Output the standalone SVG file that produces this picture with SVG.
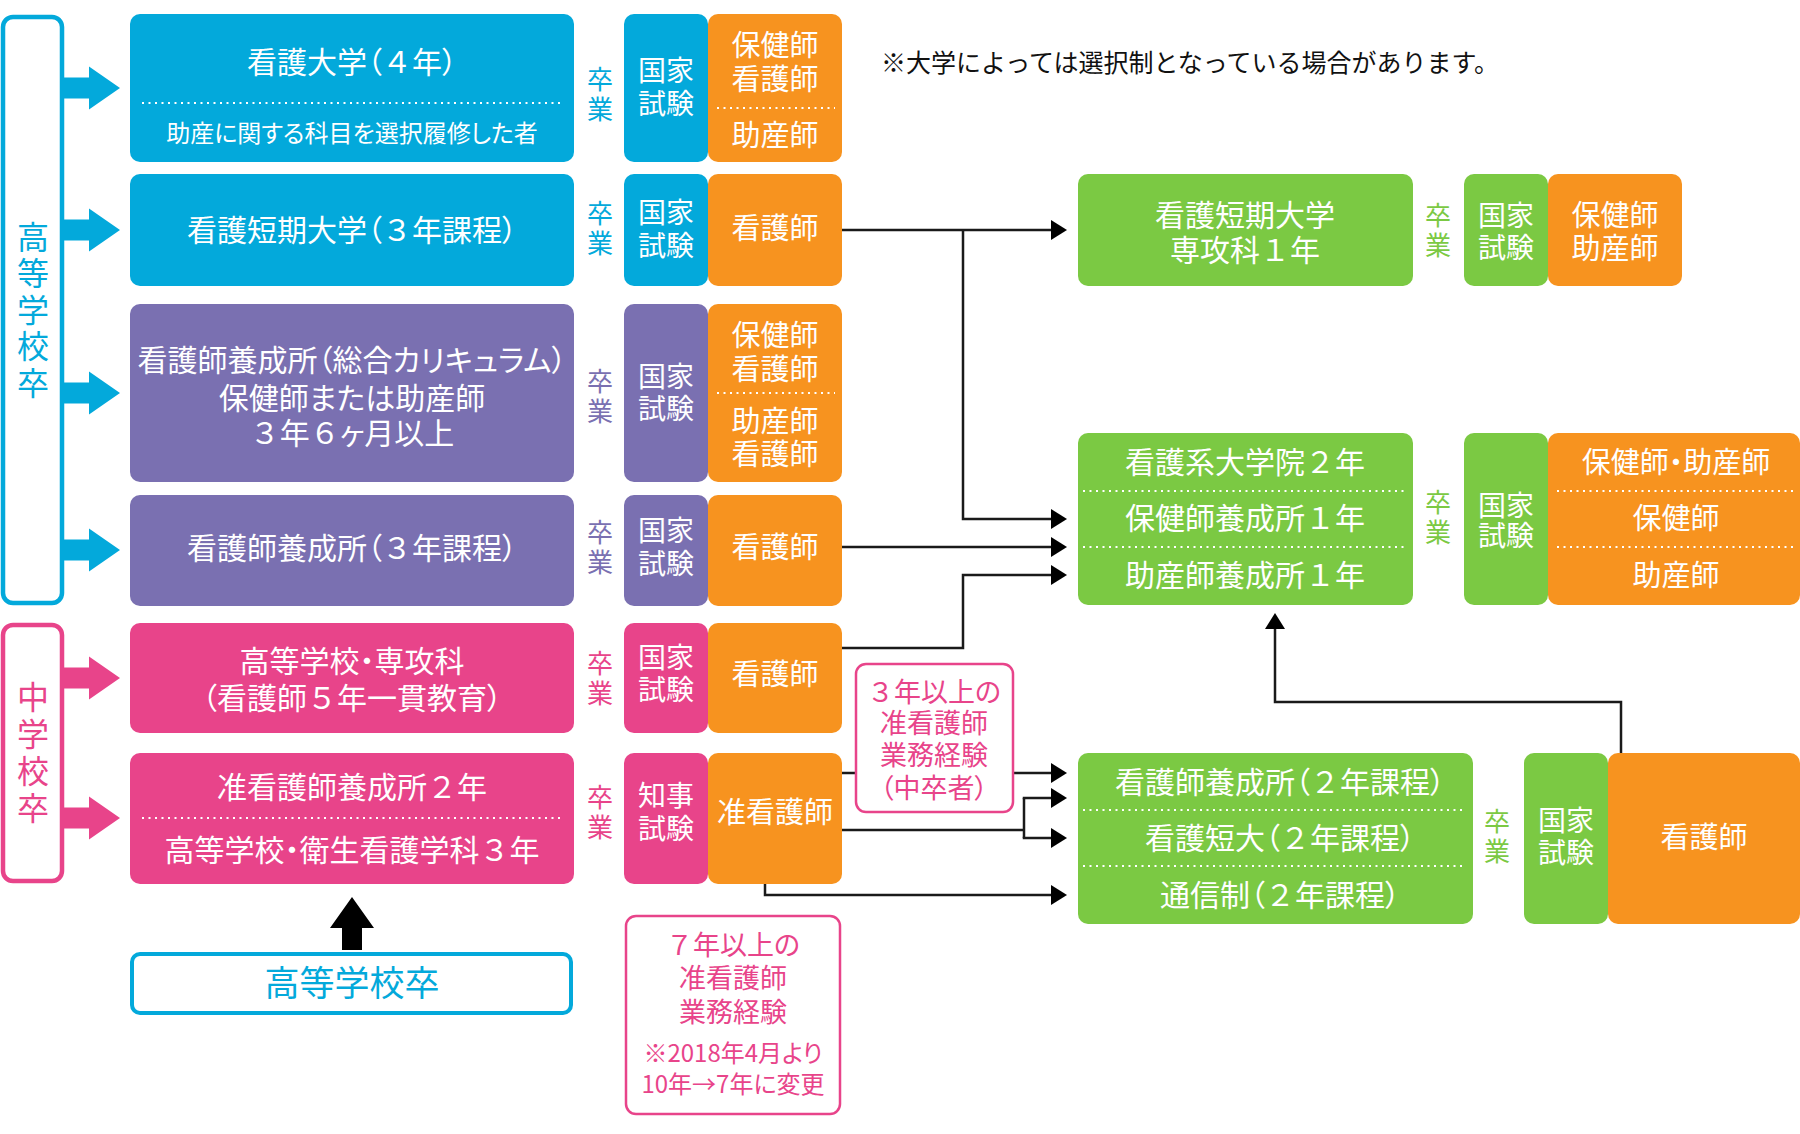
<svg xmlns="http://www.w3.org/2000/svg" width="1800" height="1134" viewBox="0 0 1800 1134">
<style>
text{font-family:"Noto Sans CJK JP","Noto Sans",sans-serif;text-anchor:middle;font-feature-settings:"palt";}
.n{font-feature-settings:normal}
.v{writing-mode:vertical-rl;font-size:26px;letter-spacing:4px;font-feature-settings:normal}
.vb{writing-mode:vertical-rl;font-size:32px;font-feature-settings:normal}
.w{fill:#fff}
.t30{font-size:30px}
.t29{font-size:29px}
.t28{font-size:28px}
.t24{font-size:24px}
.blue{fill:#03a9db}
.purple{fill:#7a70b1}
.pink{fill:#e8448a}
.orange{fill:#f7931f}
.green{fill:#7bc943}
.tb{fill:#03a9db}
.tp{fill:#7a70b1}
.tk{fill:#e8448a}
.tg{fill:#7bc943}
.dot{stroke:#fff;stroke-width:2;stroke-dasharray:2 4.5;fill:none}
.conn{stroke:#1a1a1a;stroke-width:2.5;fill:none}
.bracket{fill:#fff;stroke-width:4.5}
.callout{fill:#fff;stroke:#e8448a;stroke-width:2.5}
</style>
<defs>
<marker id="ah" markerUnits="userSpaceOnUse" markerWidth="17" markerHeight="21" refX="10" refY="10" orient="auto" viewBox="0 0 17 20">
<path d="M0,0 L16,10 L0,20 Z" fill="#000"/>
</marker>
</defs>

<!-- left brackets -->
<g id="bracket-high">
<rect class="bracket" x="3" y="17" width="59" height="586" rx="10" stroke="#03a9db"/>
<text class="vb tb" x="33" y="312" style="letter-spacing:4.5px">高等学校卒</text>
<path class="blue" d="M64,77.5H89V66.5L120,88L89,109.5V98.5H64Z"/>
<path class="blue" d="M64,219.5H89V208.5L120,230L89,251.5V240.5H64Z"/>
<path class="blue" d="M64,382.5H89V371.5L120,393L89,414.5V403.5H64Z"/>
<path class="blue" d="M64,539.5H89V528.5L120,550L89,571.5V560.5H64Z"/>
</g>
<g id="bracket-middle">
<rect class="bracket" x="3" y="625" width="59" height="256" rx="10" stroke="#e8448a"/>
<text class="vb tk" x="33" y="755" style="letter-spacing:5px">中学校卒</text>
<path class="pink" d="M64,667.5H89V656.5L120,678L89,699.5V688.5H64Z"/>
<path class="pink" d="M64,807.5H89V796.5L120,818L89,839.5V828.5H64Z"/>
</g>

<!-- connectors -->
<g id="connectors">
<path class="conn" d="M842,230H1061" marker-end="url(#ah)"/>
<path class="conn" d="M963,230V519H1061" marker-end="url(#ah)"/>
<path class="conn" d="M842,547H1061" marker-end="url(#ah)"/>
<path class="conn" d="M842,648H963V575H1061" marker-end="url(#ah)"/>
<path class="conn" d="M842,773H1061" marker-end="url(#ah)"/>
<path class="conn" d="M842,830H1024"/>
<path class="conn" d="M1024,798V838"/>
<path class="conn" d="M1022.75,798H1061" marker-end="url(#ah)"/>
<path class="conn" d="M1022.75,838H1061" marker-end="url(#ah)"/>
<path class="conn" d="M765,884V895H1061" marker-end="url(#ah)"/>
<path class="conn" d="M1621,753V702H1275V619" marker-end="url(#ah)"/>
<path d="M342,950V928H330L352,897L374,928H362V950Z" fill="#000"/>
</g>

<!-- row 1 -->
<g id="row1">
<rect class="blue" x="130" y="14" width="444" height="148" rx="10"/>
<text class="w t30" x="352" y="73">看護大学（<tspan class="n">４</tspan>年）</text>
<line class="dot" x1="142" y1="103" x2="563" y2="103"/>
<text class="w t24" x="352" y="142">助産に関する科目を選択履修した者</text>
<text class="v tb" x="600" y="96">卒業</text>
<rect class="blue" x="624" y="14" width="84" height="148" rx="10"/>
<text class="w t28"><tspan x="666" y="81">国家</tspan><tspan x="666" y="114">試験</tspan></text>
<rect class="orange" x="708" y="14" width="134" height="148" rx="10"/>
<text class="w t29"><tspan x="775" y="56">保健師</tspan><tspan x="775" y="90">看護師</tspan></text>
<line class="dot" x1="717" y1="108" x2="835" y2="108"/>
<text class="w t29" x="775" y="146">助産師</text>
</g>

<!-- row 2 -->
<g id="row2">
<rect class="blue" x="130" y="174" width="444" height="112" rx="10"/>
<text class="w t30" x="352" y="241">看護短期大学（<tspan class="n">３</tspan>年課程）</text>
<text class="v tb" x="600" y="230">卒業</text>
<rect class="blue" x="624" y="174" width="84" height="112" rx="10"/>
<text class="w t28"><tspan x="666" y="223">国家</tspan><tspan x="666" y="256">試験</tspan></text>
<rect class="orange" x="708" y="174" width="134" height="112" rx="10"/>
<text class="w t29" x="775" y="239">看護師</text>
</g>

<!-- row 3 -->
<g id="row3">
<rect class="purple" x="130" y="304" width="444" height="178" rx="10"/>
<text class="w t30"><tspan x="352" y="371">看護師養成所（総合カリキュラム）</tspan><tspan x="352" y="409">保健師または助産師</tspan><tspan x="352" y="444"><tspan class="n">３</tspan>年<tspan class="n">６</tspan>ヶ月以上</tspan></text>
<text class="v tp" x="600" y="398">卒業</text>
<rect class="purple" x="624" y="304" width="84" height="178" rx="10"/>
<text class="w t28"><tspan x="666" y="387">国家</tspan><tspan x="666" y="419">試験</tspan></text>
<rect class="orange" x="708" y="304" width="134" height="178" rx="10"/>
<text class="w t29"><tspan x="775" y="346">保健師</tspan><tspan x="775" y="380">看護師</tspan></text>
<line class="dot" x1="717" y1="393" x2="835" y2="393"/>
<text class="w t29"><tspan x="775" y="432">助産師</tspan><tspan x="775" y="465">看護師</tspan></text>
</g>

<!-- row 4 -->
<g id="row4">
<rect class="purple" x="130" y="495" width="444" height="111" rx="10"/>
<text class="w t30" x="352" y="559">看護師養成所（<tspan class="n">３</tspan>年課程）</text>
<text class="v tp" x="600" y="549">卒業</text>
<rect class="purple" x="624" y="495" width="84" height="111" rx="10"/>
<text class="w t28"><tspan x="666" y="541">国家</tspan><tspan x="666" y="574">試験</tspan></text>
<rect class="orange" x="708" y="495" width="134" height="111" rx="10"/>
<text class="w t29" x="775" y="558">看護師</text>
</g>

<!-- row 5 -->
<g id="row5">
<rect class="pink" x="130" y="623" width="444" height="110" rx="10"/>
<text class="w t30"><tspan x="352" y="672">高等学校・専攻科</tspan><tspan x="352" y="709">（看護師<tspan class="n">５</tspan>年一貫教育）</tspan></text>
<text class="v tk" x="600" y="680">卒業</text>
<rect class="pink" x="624" y="623" width="84" height="110" rx="10"/>
<text class="w t28"><tspan x="666" y="668">国家</tspan><tspan x="666" y="700">試験</tspan></text>
<rect class="orange" x="708" y="623" width="134" height="110" rx="10"/>
<text class="w t29" x="775" y="685">看護師</text>
</g>

<!-- row 6 -->
<g id="row6">
<rect class="pink" x="130" y="753" width="444" height="131" rx="10"/>
<text class="w t30" x="352" y="798">准看護師養成所<tspan class="n">２</tspan>年</text>
<line class="dot" x1="142" y1="818" x2="563" y2="818"/>
<text class="w t30" x="352" y="861">高等学校・衛生看護学科<tspan class="n">３</tspan>年</text>
<text class="v tk" x="600" y="814">卒業</text>
<rect class="pink" x="624" y="753" width="84" height="131" rx="10"/>
<text class="w t28"><tspan x="666" y="806">知事</tspan><tspan x="666" y="839">試験</tspan></text>
<rect class="orange" x="708" y="753" width="134" height="131" rx="10"/>
<text class="w t29" x="775" y="823">准看護師</text>
</g>

<!-- high school graduate box -->
<g id="highschool">
<rect x="132" y="954" width="439" height="59" rx="8" fill="#fff" stroke="#03a9db" stroke-width="4"/>
<text class="tb" style="font-size:35px" x="352" y="996">高等学校卒</text>
</g>

<!-- callouts -->
<g id="callout-3yr">
<rect class="callout" x="856" y="664" width="157" height="148" rx="10"/>
<text class="tk" style="font-size:27px"><tspan x="934" y="702"><tspan class="n">３</tspan>年以上の</tspan><tspan x="934" y="733">准看護師</tspan><tspan x="934" y="765">業務経験</tspan><tspan x="934" y="798">（中卒者）</tspan></text>
</g>
<g id="callout-7yr">
<rect class="callout" x="626" y="916" width="214" height="198" rx="10"/>
<text class="tk" style="font-size:27px"><tspan x="733" y="955"><tspan class="n">７</tspan>年以上の</tspan><tspan x="733" y="988">准看護師</tspan><tspan x="733" y="1022">業務経験</tspan></text>
<text class="tk" style="font-size:24px"><tspan x="733" y="1062">※2018年4月より</tspan><tspan x="733" y="1093">10年→7年に変更</tspan></text>
</g>

<!-- note -->
<g id="note">
<text x="881" y="72" style="font-size:25px;text-anchor:start;font-feature-settings:normal" fill="#111">※大学によっては選択制となっている場合があります。</text>
</g>

<!-- green upper -->
<g id="senkouka">
<rect class="green" x="1078" y="174" width="335" height="112" rx="10"/>
<text class="w t30"><tspan x="1245" y="226">看護短期大学</tspan><tspan x="1245" y="261">専攻科<tspan class="n">１</tspan>年</tspan></text>
<text class="v tg" x="1438" y="232">卒業</text>
<rect class="green" x="1464" y="174" width="84" height="112" rx="10"/>
<text class="w t28"><tspan x="1506" y="226">国家</tspan><tspan x="1506" y="258">試験</tspan></text>
<rect class="orange" x="1548" y="174" width="134" height="112" rx="10"/>
<text class="w t29"><tspan x="1615" y="226">保健師</tspan><tspan x="1615" y="259">助産師</tspan></text>
</g>

<!-- green middle -->
<g id="graduate">
<rect class="green" x="1078" y="433" width="335" height="172" rx="10"/>
<text class="w t30" x="1245" y="473">看護系大学院<tspan class="n">２</tspan>年</text>
<line class="dot" x1="1083" y1="491" x2="1406" y2="491"/>
<text class="w t30" x="1245" y="529">保健師養成所<tspan class="n">１</tspan>年</text>
<line class="dot" x1="1083" y1="547" x2="1406" y2="547"/>
<text class="w t30" x="1245" y="586">助産師養成所<tspan class="n">１</tspan>年</text>
<text class="v tg" x="1438" y="519">卒業</text>
<rect class="green" x="1464" y="433" width="84" height="172" rx="10"/>
<text class="w t28"><tspan x="1506" y="516">国家</tspan><tspan x="1506" y="546">試験</tspan></text>
<rect class="orange" x="1548" y="433" width="252" height="172" rx="10"/>
<text class="w t29" x="1676" y="473">保健師・助産師</text>
<line class="dot" x1="1557" y1="491" x2="1793" y2="491"/>
<text class="w t29" x="1676" y="529">保健師</text>
<line class="dot" x1="1557" y1="547" x2="1793" y2="547"/>
<text class="w t29" x="1676" y="586">助産師</text>
</g>

<!-- green lower -->
<g id="twoyear">
<rect class="green" x="1078" y="753" width="395" height="171" rx="10"/>
<text class="w t30" x="1280" y="793">看護師養成所（<tspan class="n">２</tspan>年課程）</text>
<line class="dot" x1="1083" y1="810" x2="1466" y2="810"/>
<text class="w t30" x="1280" y="849">看護短大（<tspan class="n">２</tspan>年課程）</text>
<line class="dot" x1="1083" y1="866" x2="1466" y2="866"/>
<text class="w t30" x="1280" y="906">通信制（<tspan class="n">２</tspan>年課程）</text>
<text class="v tg" x="1497" y="838">卒業</text>
<rect class="green" x="1524" y="753" width="84" height="171" rx="10"/>
<text class="w t28"><tspan x="1566" y="831">国家</tspan><tspan x="1566" y="863">試験</tspan></text>
<rect class="orange" x="1608" y="753" width="192" height="171" rx="10"/>
<text class="w t29" x="1704" y="848">看護師</text>
</g>
</svg>
